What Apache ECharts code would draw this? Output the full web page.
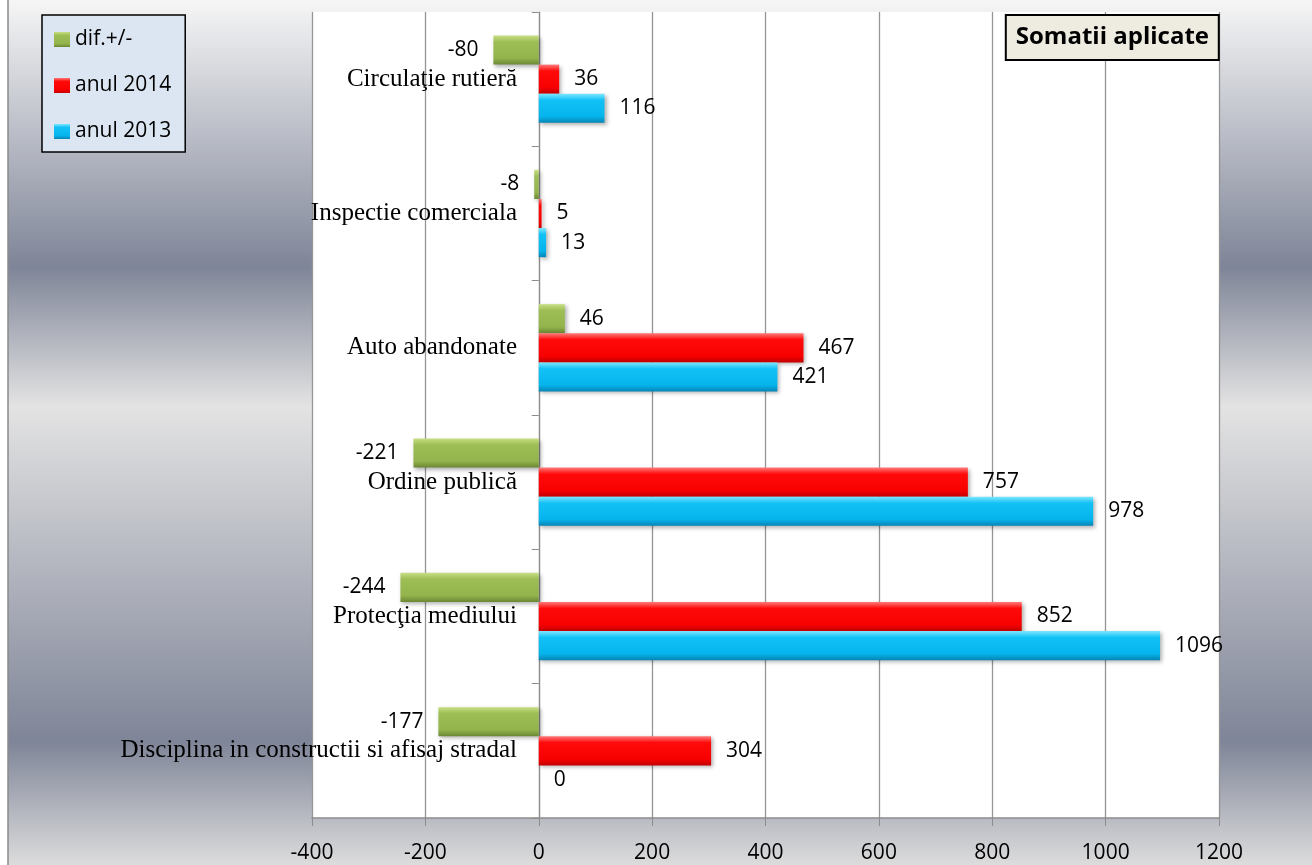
<!DOCTYPE html>
<html>
<head>
<meta charset="utf-8">
<script src="https://cdn.jsdelivr.net/npm/echarts@6/dist/echarts.min.js"></script>
<style>
  html, body { margin: 0; padding: 0; background: #fff; }
  #chart { width: 1312px; height: 865px; }
</style>
</head>
<body>
<div id="chart"></div>
<script>
// Categories, top to bottom
const categories = [
  'Circulaţie rutieră',
  'Inspectie comerciala',
  'Auto abandonate',
  'Ordine publică',
  'Protecţia mediului',
  'Disciplina in constructii si afisaj stradal'
];
const seriesNames = ['dif.+/-', 'anul 2014', 'anul 2013'];
const difValues = [-80, -8, 46, -221, -244, -177];
const values2014 = [36, 5, 467, 757, 852, 304];
const values2013 = [116, 13, 421, 978, 1096, 0];
const xTicks = { min: -400, max: 1200, interval: 200 };

function grad(c0, c1, c2, c3) {
  return new echarts.graphic.LinearGradient(0, 0, 0, 1, [
    { offset: 0, color: c0 },
    { offset: 0.22, color: c1 },
    { offset: 0.78, color: c2 },
    { offset: 1, color: c3 }
  ]);
}
const colors = [
  grad('#c8df84', '#9dbd55', '#93b34c', '#6a8733'),
  grad('#ff7a7a', '#ff0a0a', '#f70000', '#c40000'),
  grad('#7fe6ff', '#12c2f6', '#05b4ec', '#0784b4')
];

function mkData(arr) {
  return arr.map(v => ({ value: v, label: { position: v < 0 ? 'left' : 'right' } }));
}

const labelFont = "'Open Sans', 'Noto Sans', sans-serif";

const series = [difValues, values2014, values2013].map((arr, i) => ({
  name: seriesNames[i],
  type: 'bar',
  data: mkData(arr),
  barGap: '0%',
  barCategoryGap: '35%',
  itemStyle: {
    color: colors[i],
    shadowBlur: 4,
    shadowColor: 'rgba(0,0,0,0.3)',
    shadowOffsetX: 2,
    shadowOffsetY: 2
  },
  label: {
    show: true,
    distance: 15,
    color: '#000',
    fontSize: 21,
    fontFamily: labelFont
  }
}));

const chart = echarts.init(document.getElementById('chart'));
chart.setOption({
  animation: false,
  graphic: [{
    type: 'rect',
    z: -10,
    silent: true,
    shape: { x: 8, y: -2, width: 1310, height: 869 },
    style: {
      fill: new echarts.graphic.LinearGradient(0, 0, 0, 1, [
        { offset: 0, color: '#f7f7f7' },
        { offset: 0.31, color: '#7f8598' },
        { offset: 0.47, color: '#e3e3e3' },
        { offset: 0.855, color: '#7f8598' },
        { offset: 1, color: '#dedede' }
      ]),
      stroke: '#8a8a8a',
      lineWidth: 1.5
    }
  }],
  title: {
    text: 'Somatii aplicate',
    right: 93,
    top: 15,
    backgroundColor: '#eeece1',
    borderColor: '#000',
    borderWidth: 2,
    padding: [10, 10, 11, 10],
    textStyle: {
      fontFamily: labelFont,
      fontWeight: 'bold',
      fontSize: 24,
      color: '#000'
    }
  },
  legend: {
    orient: 'vertical',
    left: 42,
    top: 15,
    backgroundColor: '#dce6f2',
    borderColor: '#000',
    borderWidth: 1.5,
    padding: [14, 14, 10, 12],
    itemGap: 25,
    itemWidth: 16,
    itemHeight: 15,
    icon: 'rect',
    textStyle: { fontFamily: labelFont, fontSize: 21, color: '#000' },
    data: seriesNames
  },
  grid: {
    left: 312,
    right: 93,
    top: 12,
    bottom: 47,
    show: true,
    backgroundColor: '#ffffff',
    borderWidth: 0,
    containLabel: false,
    outerBoundsMode: 'none'
  },
  xAxis: {
    type: 'value',
    min: xTicks.min,
    max: xTicks.max,
    interval: xTicks.interval,
    axisLine: { show: true, lineStyle: { color: '#8c8c8c', width: 1.5 } },
    axisTick: { show: true, length: 8, lineStyle: { color: '#8c8c8c' } },
    splitLine: { show: true, lineStyle: { color: '#959595', width: 1.3 } },
    axisLabel: {
      color: '#000', fontSize: 21, fontFamily: labelFont, margin: 25,
      formatter: v => String(v)
    }
  },
  yAxis: {
    type: 'category',
    inverse: true,
    data: categories,
    axisLine: { show: true, onZero: true, lineStyle: { color: '#8c8c8c', width: 1.2 } },
    axisTick: { show: true, length: 7, lineStyle: { color: '#8c8c8c' } },
    splitLine: { show: false },
    axisLabel: {
      color: '#000',
      fontSize: 25,
      fontFamily: "'Liberation Serif', 'Times New Roman', serif",
      margin: -205,
      verticalAlign: 'middle',
      padding: [10, 0, 0, 0]
    }
  },
  series: series
});
</script>
</body>
</html>
